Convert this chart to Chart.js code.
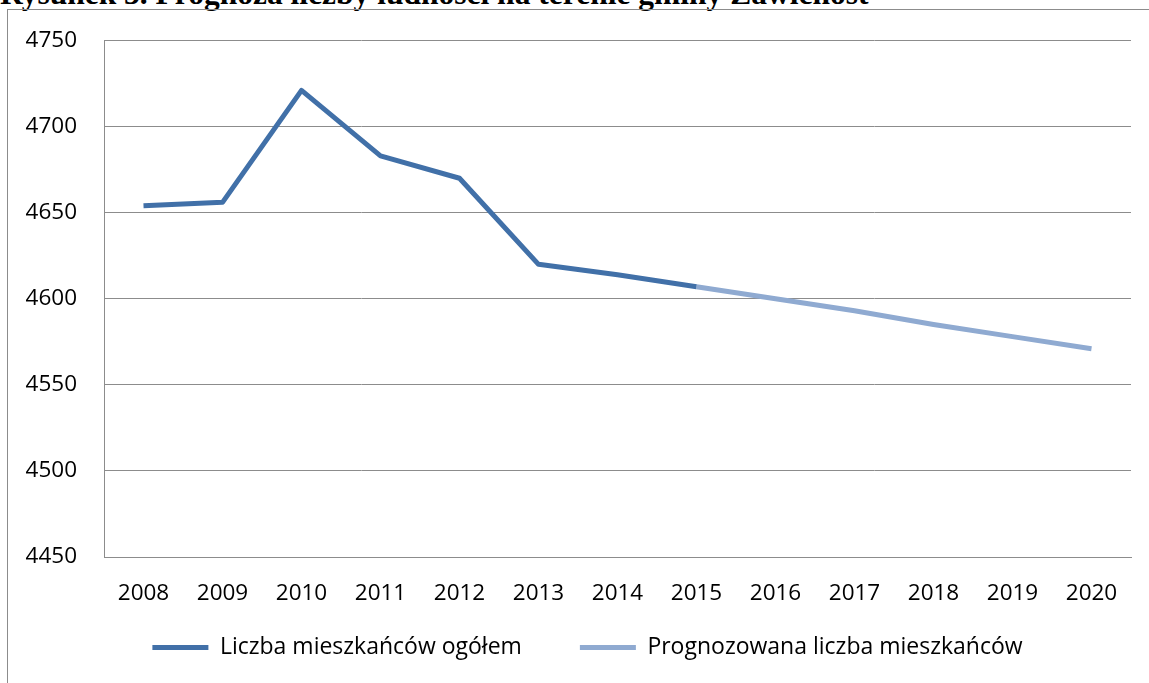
<!DOCTYPE html>
<html>
<head>
<meta charset="utf-8">
<script src="https://cdn.jsdelivr.net/npm/chart.js@4"></script>
<style>
  html, body { margin: 0; padding: 0; background: #fff; overflow: hidden; }
  body { width: 1149px; height: 683px; position: relative; }
  #title {
    position: absolute; left: 0; top: -24px; white-space: nowrap; line-height: 31px;
    font: bold 31.5px "Liberation Serif", "DejaVu Serif", serif; color: #000;
  }
  #frame {
    position: absolute; left: 7px; top: 9px; width: 1160px; height: 700px;
    border-left: 1px solid #8c8c8c; border-top: 1px solid #8c8c8c;
  }
  #wrap { position: absolute; left: 0; top: 0; width: 1149px; height: 683px; }
</style>
</head>
<body>
<div id="title">Rysunek 3. Prognoza liczby ludności na terenie gminy Zawichost</div>
<div id="frame"></div>
<div id="wrap"><canvas id="wykres"></canvas></div>
<script>
// lata na osi X
const lata = ['2008', '2009', '2010', '2011', '2012', '2013', '2014', '2015', '2016', '2017', '2018', '2019', '2020'];
// dane rzeczywiste (do 2015)
const mieszkancy = [4654, 4656, 4721, 4683, 4670, 4620, 4614, 4607, null, null, null, null, null];
// prognoza (od 2015)
const prognoza = [null, null, null, null, null, null, null, 4607, 4600, 4593, 4585, 4578, 4571];
const osY = { min: 4450, max: 4750, krok: 50 };

const czcionka = '"Open Sans", sans-serif';

// legenda ma duzy odstep w poziomie, wiec podnosimy ja o roznice w pionie
// i lekko przesuwamy w prawo
const przesunLegende = {
  id: 'przesunLegende',
  afterLayout(chart) {
    const l = chart.legend;
    l.top -= 27;
    l.bottom -= 27;
    l.left += 22;
    l.right += 22;
  }
};

const ctx = document.getElementById('wykres').getContext('2d');

const wykres = new Chart(ctx, {
  type: 'line',
  data: {
    labels: lata,
    datasets: [{
      label: 'Liczba mieszkańców ogółem',
      data: mieszkancy,
      borderColor: '#4170A8',
      backgroundColor: '#4170A8',
      borderWidth: 5,
      pointRadius: 0,
      tension: 0,
      borderJoinStyle: 'round',
      borderCapStyle: 'butt'
    }, {
      label: 'Prognozowana liczba mieszkańców',
      data: prognoza,
      borderColor: '#8FAAD1',
      backgroundColor: '#8FAAD1',
      borderWidth: 5,
      pointRadius: 0,
      tension: 0,
      borderJoinStyle: 'round',
      borderCapStyle: 'butt'
    }]
  },
  plugins: [przesunLegende],
  options: {
    responsive: true,
    maintainAspectRatio: false,
    animation: false,
    layout: { padding: { top: 37, left: 0, right: 18, bottom: -13 } },
    plugins: {
      tooltip: { enabled: false },
      legend: {
        position: 'bottom',
        labels: {
          usePointStyle: true,
          pointStyle: 'line',
          pointStyleWidth: 56,
          boxHeight: 20,
          padding: 58,
          color: '#000',
          font: { family: czcionka, size: 23 }
        }
      }
    },
    scales: {
      x: {
        offset: true,
        grid: { display: false },
        border: { display: true, color: '#8c8c8c', width: 1 },
        ticks: { color: '#000', padding: 15, maxRotation: 0, autoSkip: false, font: { family: czcionka, size: 22.5 } },
        afterFit: (s) => { s.height = 48; }
      },
      y: {
        min: osY.min,
        max: osY.max,
        ticks: {
          stepSize: osY.krok, color: '#000', padding: 27,
          font: { family: czcionka, size: 22.5 },
          callback: (v) => String(v)
        },
        grid: { color: '#8c8c8c', lineWidth: 1, drawTicks: false },
        border: { display: true, color: '#8c8c8c', width: 1 },
        afterFit: (s) => { s.width = 104; }
      }
    }
  }
});
</script>
</body>
</html>
